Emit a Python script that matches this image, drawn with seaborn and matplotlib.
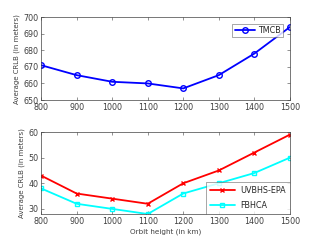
import matplotlib
matplotlib.use("Agg")
import matplotlib.pyplot as plt
import seaborn as sns
import pandas as pd

orbit_height = [800, 900, 1000, 1100, 1200, 1300, 1400, 1500]
tmcb = [671, 665, 661, 660, 657, 665, 678, 694]
uvbhs_epa = [43, 36, 34, 32, 40, 45, 52, 59]
fbhca = [38, 32, 30, 28, 36, 40, 44, 50]

sns.set_style("white")
plt.rcParams['font.family'] = ['DejaVu Sans']
plt.rcParams['font.size'] = 6

fig = plt.figure(figsize=(3.21, 2.41), dpi=100)
ax1 = fig.add_axes([0.128, 0.585, 0.775, 0.344])
ax2 = fig.add_axes([0.128, 0.112, 0.775, 0.340])

df_top = pd.DataFrame({'h': orbit_height, 'v': tmcb})
sns.lineplot(data=df_top, x='h', y='v', ax=ax1, color='blue', marker='o',
             markersize=4, markerfacecolor='none', markeredgecolor='blue',
             markeredgewidth=1.0, linewidth=1.3, label='TMCB')

df_bot = pd.DataFrame({'h': orbit_height * 2,
                       'v': uvbhs_epa + fbhca,
                       'method': ['UVBHS-EPA'] * 8 + ['FBHCA'] * 8})
sns.lineplot(data=df_bot[df_bot.method == 'UVBHS-EPA'], x='h', y='v', ax=ax2,
             color='red', marker='x', markersize=3.5, markeredgecolor='red',
             markeredgewidth=1.0, linewidth=1.3, label='UVBHS-EPA')
sns.lineplot(data=df_bot[df_bot.method == 'FBHCA'], x='h', y='v', ax=ax2,
             color='cyan', marker='s', markersize=3.5, markerfacecolor='none',
             markeredgecolor='cyan', markeredgewidth=1.0, linewidth=1.3,
             label='FBHCA')

ax1.set_xlim(800, 1500)
ax1.set_ylim(650, 700)
ax1.set_yticks([650, 660, 670, 680, 690, 700])
ax2.set_xlim(800, 1500)
ax2.set_ylim(28, 60)
ax2.set_yticks([30, 40, 50, 60])

for ax in (ax1, ax2):
    ax.set_xticks(orbit_height)
    ax.tick_params(direction='in', length=2, width=0.4, labelsize=5.8,
                   colors='#404040', pad=2, top=True, right=True,
                   bottom=True, left=True)
    for s in ax.spines.values():
        s.set_linewidth(0.5)
        s.set_color('#404040')
    ax.set_ylabel('Average CRLB (in meters)', fontsize=5, labelpad=2,
                  color='#404040')
    ax.set_xlabel('')

ax2.set_xlabel('Orbit height (in km)', fontsize=5.2, labelpad=2,
               color='#404040')

ax1.legend(loc='upper right', fontsize=5.8, frameon=True, fancybox=False,
           edgecolor='#404040', borderpad=0.3, handlelength=2.5,
           handletextpad=0.4, borderaxespad=0.8).get_frame().set_linewidth(0.4)
ax2.legend(loc='lower right', fontsize=5.8, frameon=True, fancybox=False,
           edgecolor='#404040', borderpad=0.5, handlelength=3.2,
           handletextpad=0.6, labelspacing=0.8,
           borderaxespad=0).get_frame().set_linewidth(0.4)

fig.savefig('out.png', dpi=100)
